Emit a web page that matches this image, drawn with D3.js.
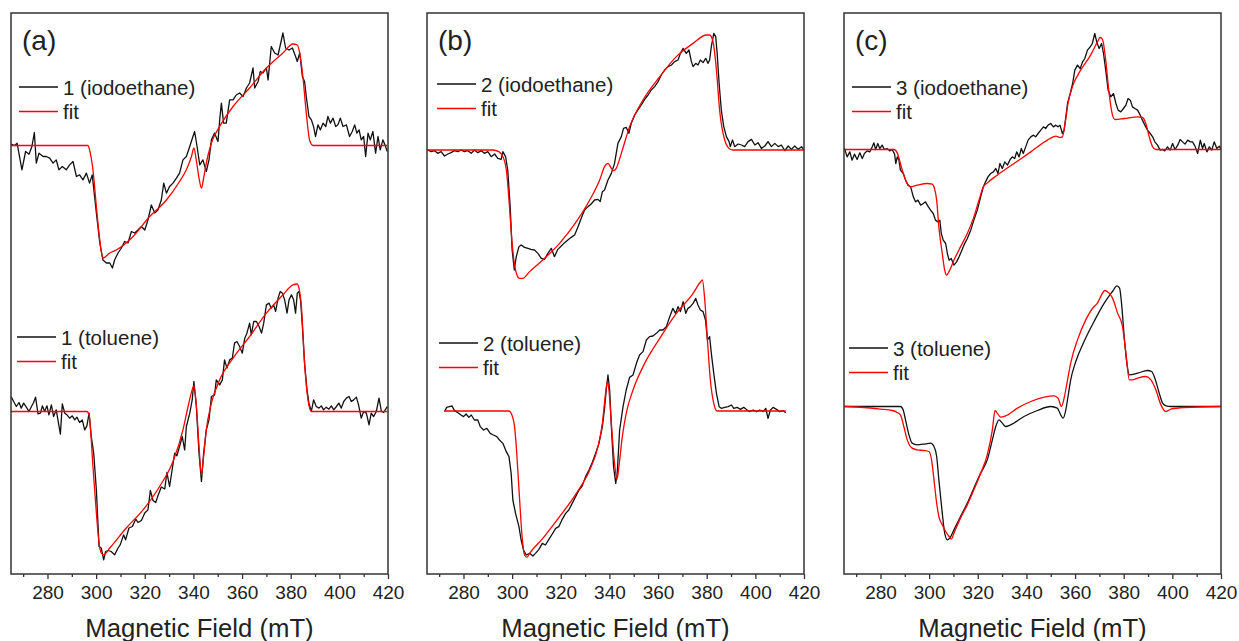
<!DOCTYPE html>
<html>
<head>
<meta charset="utf-8">
<script src="https://cdn.jsdelivr.net/npm/d3@7"></script>
<style>
  body { margin: 0; background: #fff; }
  svg { display: block; font-family: "Liberation Sans", Arial, sans-serif; }
</style>
</head>
<body>
<div id="chart"></div>
<script>
// ---- data (field in mT, intensity in a.u. relative to each trace's baseline) ----
var panelLabels = ["(a)", "(b)", "(c)"];
var legendNames = [
  ["1 (iodoethane)", "1 (toluene)"],
  ["2 (iodoethane)", "2 (toluene)"],
  ["3 (iodoethane)", "3 (toluene)"]
];
var xTicks = [280, 300, 320, 340, 360, 380, 400, 420];
var xMinorTicks = [270, 290, 310, 330, 350, 370, 390, 410];
var xTitle = "Magnetic Field (mT)";
// vertical offsets of the two traces in every panel (upper, lower)
var offsets = [[85.7, 32.5], [84.8, 32.6], [84.9, 33.5]];

var a1Exp = [[265,0.27],[266.5,0],[267.5,0.47],[269.5,-4.87],[271,-1.2],[272.4,-1.73],[273.6,-0.2],[274.6,2.6],[275.4,-3.53],[276.5,-1.53],[278.2,-2.2],[279.5,-2.2],[280.9,-2.53],[282.3,-3.53],[283.6,-2.87],[284.7,-4.87],[286.1,-4.2],[287.7,-4.87],[289.1,-3.87],[290.5,-3.2],[291.9,-6.2],[293.2,-5.87],[294.6,-6.87],[296,-5.53],[297.3,-7.53],[298.4,-5.87],[300.1,-13.5],[301.5,-19.5],[302.8,-22.9],[304.2,-23.5],[305.6,-23.5],[306.7,-24.5],[307.6,-22.9],[309,-21.5],[310.4,-20.5],[311.7,-19.2],[313.1,-19.5],[314.5,-17.2],[315.8,-17.5],[317.2,-16.9],[318.6,-16.2],[320,-16.9],[321.3,-14.9],[322.7,-11.9],[324.1,-13.5],[325.4,-12.9],[326.8,-10.9],[327.8,-7.53],[328.9,-9.53],[330.2,-8.2],[331.6,-7.53],[333,-6.53],[334.3,-5.53],[335.7,-2.87],[337.1,-2.2],[338.5,-0.2],[339.8,1.8],[340.5,2.8],[341.5,-0.2],[342.6,-3.87],[343.9,-2.87],[345.3,-5.2],[346.4,-2.87],[347.4,1.13],[348.7,2.47],[350.1,0.8],[350.8,5.13],[351.5,8.47],[352.4,4.47],[353.5,4.47],[354.9,9.13],[356.3,9.13],[357.6,10.1],[359,10.5],[360.4,9.8],[361.8,11.5],[363.1,12.5],[364.5,15.5],[365.2,11.5],[366.6,12.8],[367.5,14.8],[368.6,14.5],[370,15.5],[370.7,13.1],[372,19.8],[373.4,18.5],[374.8,18.1],[375.9,20.5],[376.8,22.5],[377.9,19.5],[379.3,19.1],[380.7,19.5],[382,17.8],[382.7,16.8],[383.7,18.5],[384.8,13.8],[385.7,12.8],[386.4,9.8],[387.5,5.8],[388.5,5.13],[389.4,3.8],[390.2,1.8],[391.2,4.13],[392.2,3.13],[393.3,4.47],[394.4,3.8],[395.3,5.8],[396.3,4.47],[397.4,5.47],[398.5,3.8],[399.4,4.13],[400.4,5.47],[401.5,3.8],[402.9,4.13],[404.2,1.8],[405.3,2.8],[406.3,4.13],[407.2,2.47],[408.1,3.13],[409,1.13],[410,1.8],[410.8,-2.2],[411.8,2.47],[412.7,1.13],[413.8,2.8],[414.9,-1.53],[415.9,1.8],[416.8,-0.87],[417.9,1.13],[419,-0.2],[419.7,-1.2]];
var a1Fit = [[265,0],[296.7,0],[297.3,-0.87],[298.7,-4.87],[300.1,-12.2],[301.5,-18.9],[302.8,-22.5],[305.6,-21.5],[308.3,-20.9],[315.2,-18.2],[322,-14.2],[328.9,-10.9],[334.3,-7.2],[337.1,-4.87],[339.2,-2.2],[340.2,-0.5],[341.2,-3],[342.3,-6.5],[343.3,-8.53],[344.2,-6.5],[345.3,-3.5],[347.4,0.5],[350.8,3.8],[356.3,7.8],[363.1,11.5],[370,15.5],[376.8,18.5],[380.9,20.3],[382.7,20.1],[383.7,18.5],[385,13.8],[386.4,6.5],[387.8,1],[389.2,0],[419.7,0]];
var a2Exp = [[265,3],[266.1,2],[267.2,1],[268.3,1.8],[269.2,0.67],[270.2,1.67],[271.3,0.87],[272.4,0],[273.4,1],[274.3,1.8],[275.1,2.87],[276.1,-0.47],[277.1,-0.33],[277.9,1.13],[278.8,0],[279.8,1.13],[280.6,-0.67],[281.6,1.33],[282.5,-1],[283.6,0.33],[284.3,-1.67],[285.3,-4.53],[286.1,1.53],[287.1,-0.33],[288,-0.67],[289.1,-1.33],[290.2,-0.87],[291.2,-1.67],[292.1,-1.13],[293.2,-2.2],[294.3,-1.67],[295.3,-3.67],[296.2,-2.87],[297.1,-0.33],[298,-5],[299,-8.33],[300.1,-15.7],[301.2,-27],[302.1,-27.3],[303.1,-29.67],[303.9,-28],[304.9,-27.8],[306.2,-28],[307.6,-28.67],[309,-27.3],[309.9,-26.67],[311.3,-24.67],[312.1,-25.67],[313.5,-23.3],[314.9,-23],[316.3,-21.5],[317.2,-22.2],[318.6,-21.8],[320,-20.3],[321.3,-19.67],[322.3,-15.8],[323.4,-17.8],[324.5,-18.2],[325.4,-16.87],[326.8,-15.1],[328.2,-15.5],[329.1,-12.2],[330.2,-15],[331.3,-11.5],[332.3,-8.33],[333.2,-8.87],[334.3,-7],[335.4,-5],[336.4,-7.67],[337.1,-3],[338.5,-0.33],[339.5,2.33],[340.2,6],[341.2,1],[342.3,-8.33],[343.3,-14],[344.2,-8.33],[345.3,-3.67],[346.4,-1.67],[347.4,3],[348.7,3.33],[349.4,6.33],[350.8,5.33],[351.9,6.33],[352.8,10.33],[353.8,8.67],[354.9,10.33],[356,10.67],[356.9,13.67],[357.9,14],[359,13],[360.1,11.67],[361.1,14.67],[362,15.67],[363.1,17.67],[363.8,15.33],[364.8,18],[365.9,18],[367,17],[368,15.67],[368.9,17.67],[370,21.33],[371.1,21.67],[372,20.67],[373,21.33],[373.8,20],[374.8,22.67],[375.7,24],[376.6,23.67],[377.5,22.33],[378.5,19.67],[379.3,22.33],[380.3,23.33],[381.2,22.33],[382,19.67],[382.7,23.67],[383.4,24],[384.1,22],[384.8,17],[385.7,9.67],[386.7,4.33],[387.5,1.67],[388.5,0],[389.4,2.33],[390.5,1],[391.6,0.67],[392.6,1.13],[393.5,0.33],[394.6,0.87],[395.7,0.47],[396.7,1.13],[397.7,0.33],[398.8,1],[399.8,1.67],[400.8,0.67],[401.8,2],[402.9,2.67],[404,3],[404.9,2],[405.9,2.33],[407,2.87],[407.9,1.33],[409,-1.33],[410,0],[411.1,-0.33],[412.2,-2.67],[413.1,-0.33],[414.1,-1],[415.2,0],[416.3,2.67],[417.3,0],[418.2,-0.2],[419.3,0.67],[419.7,1]];
var a2Fit = [[265,0],[296.2,0],[297.1,-0.67],[298.7,-11],[300.1,-20.3],[301.2,-26.3],[302.1,-28.3],[303.1,-28.67],[305.6,-27.3],[312.4,-23.3],[319.3,-19.67],[326.1,-15],[331.6,-10],[335.7,-3.67],[337.8,1],[339.5,4.33],[340.2,5.13],[341.2,1.33],[342.3,-7],[343.3,-12.67],[344.2,-9],[345.3,-3.67],[347.4,1.67],[350.8,6.33],[356.3,10.67],[363.1,15],[370,19.67],[376.8,23.33],[380.9,25.33],[382.6,25.5],[383.4,24.67],[384.4,21],[385.7,9.67],[387.1,2.33],[388.5,0],[419.7,0]];

var b1Exp = [[265.3,0],[266.7,-0.33],[268.1,-0.13],[269.4,-0.67],[270.8,-0.33],[272.2,-1.2],[273.6,-0.8],[274.9,-0.53],[276.3,-0.13],[277.7,-0.33],[279,0],[280.4,-0.33],[281.8,-0.13],[283.2,-0.67],[284.5,0],[285.9,-0.53],[287.3,-0.13],[288.6,-0.67],[290,-0.33],[291.4,-1.33],[292.8,-0.8],[294.1,-1.67],[295.5,-1.87],[296.2,-0.33],[297.3,-1.33],[298.2,-4],[299.2,-11.33],[300,-20],[300.9,-24],[301.7,-21.33],[302.8,-19.33],[303.7,-19],[305.1,-19.47],[306.5,-19.67],[307.8,-19.87],[309.2,-20],[310.6,-20.67],[312,-21.67],[313.3,-21.87],[314.7,-20.67],[316.1,-19.67],[317.4,-21.33],[318.8,-19.87],[320.2,-19.2],[321.6,-18.53],[322.9,-18],[324.3,-17.47],[325.7,-17],[327.1,-15.33],[328.4,-13.67],[329.8,-12],[331.2,-11.33],[332.5,-10.8],[333.9,-10],[335.3,-9.87],[336.2,-10.33],[337.1,-8.33],[338,-8],[339.4,-6],[340.8,-4.67],[342.1,-2.67],[343.5,1.33],[344.9,2.67],[345.8,4.33],[346.9,4.53],[348,3.33],[349,5.33],[350.4,7],[351.7,8],[353.1,9],[354.5,10.13],[355.9,11],[357.2,12],[358.6,12.67],[360,13.67],[361.3,15],[362.7,16],[364.1,16.67],[365.5,17],[366.8,17.67],[368.2,18],[369.2,19.33],[370.3,20.33],[371.6,19.33],[372.7,20],[373.7,17.67],[374.4,16.67],[375.5,17.33],[376.4,17],[377.4,18],[378.5,17.47],[379.6,18.33],[380.5,17.33],[381.2,18],[381.9,20.67],[382.9,23.33],[383.7,22.67],[384.3,19.33],[385.1,13.33],[386,8],[387,4.67],[388.1,2.67],[389.2,1.67],[389.7,0.67],[390.6,2],[391.5,0.67],[392.9,1.2],[394.3,1],[395.6,0.67],[397,1.67],[398.4,2.13],[399.8,1],[401.1,1.47],[402.5,0.33],[403.9,0.8],[405.2,1.67],[406.6,0.67],[408,1.33],[409.4,0.67],[410.7,1],[412.1,-0.13],[413.5,0.8],[414.8,0.13],[416.2,0.8],[417.6,0.13],[419,0.67],[420,0]];
var b1Fit = [[264.9,0],[292.1,0],[294.5,-0.33],[296.5,-1.67],[297.8,-4.67],[298.9,-11.33],[300,-18.67],[301.4,-24],[303,-25.67],[304.4,-25.67],[307.2,-24.33],[312.6,-22],[319.5,-18.67],[326.4,-14.33],[331.9,-10],[336,-6],[338,-3.33],[339.4,-2.67],[340.8,-3.67],[341.7,-4.13],[342.8,-3.67],[344.9,-0.67],[348.3,4.67],[353.8,10],[360.7,14.67],[367.5,18.67],[374.4,21.33],[379.9,23],[381.2,23],[382.6,21.67],[384,16],[385.3,8],[387.4,2],[389.5,0.2],[390.8,0],[420,0]];
var b2Exp = [[272.2,-0.13],[273.1,0.73],[274.2,0.87],[275.3,1],[276.3,0.07],[277.7,-0.33],[279,-0.8],[280,-1.13],[281.1,-0.6],[282.2,-1.27],[283.2,-0.8],[284.5,-1.8],[285.9,-1.8],[286.9,-3.13],[288.2,-3.8],[289.6,-3.47],[291,-4.47],[292.3,-4.8],[293.7,-5.13],[294.8,-5.8],[296.2,-6.47],[297.6,-8.13],[298.7,-9.13],[299.6,-12.47],[300.3,-17.8],[301.4,-20.47],[302.8,-23.13],[303.7,-25.8],[304.7,-27.8],[305.8,-28.8],[307.2,-28.47],[308.5,-29],[309.6,-28.47],[311,-27.67],[312.4,-26.47],[313.7,-26.8],[315.1,-25.67],[316.5,-24.6],[317.9,-23.47],[319.2,-23.13],[320.6,-21.67],[322,-20.47],[323.3,-19.8],[324.7,-18.47],[326.1,-17.13],[327.5,-15.8],[328.8,-15],[330.2,-13.13],[331.6,-11.8],[332.9,-10.33],[334.3,-8.47],[335.7,-6.47],[337.1,-3.13],[338,0.53],[338.7,4.2],[339.4,7.2],[340.1,4.2],[340.8,-3.13],[341.7,-11.13],[342.6,-14.47],[343.2,-12.47],[344.2,-3.8],[345.6,0.87],[346.9,4.2],[348.3,6.73],[349.7,7.2],[351.1,9.53],[352.4,11.2],[353.8,11.87],[355.2,14.2],[356.5,14.87],[357.9,15],[359.3,15.53],[360.7,16.2],[362,16.2],[363.4,16.87],[364.8,18.87],[366.1,20.53],[367.2,19.53],[368.2,20.87],[369.2,19.87],[370.3,21.87],[371.4,19.53],[372.3,20.53],[373.3,20.87],[374.4,21.53],[375.5,22.53],[376.4,21.2],[377.4,20.2],[378.5,19.87],[379.5,18.2],[380.3,14.2],[381.2,14.87],[381.9,11.53],[382.9,7.53],[384,3.53],[385.1,0.87],[386,0.53],[387.4,0.73],[388.8,0.87],[390.2,1.2],[391.1,0.53],[392.5,0.73],[393.9,0.33],[395.2,0.73],[396.6,0.2],[397.7,-0.13],[399.1,0.2],[400.4,-0.13],[401.8,0.2],[403.2,-0.13],[404.3,0.53],[405.2,-1.47],[406.2,0.2],[407.3,0.73],[408.7,0.33],[410,-0.13],[411.4,0.07],[412.5,-0.33]];
var b2Fit = [[272.2,0],[298.7,0],[299.6,-0.47],[301,-3.13],[301.9,-8.47],[303,-17.13],[304.1,-25.13],[305.1,-28.8],[306.1,-29.27],[307.2,-28.47],[312.6,-25.47],[319.5,-21.13],[326.4,-16.47],[331.9,-11.8],[335.3,-7.13],[337.1,-2.47],[338.4,3.53],[339.1,5.87],[339.8,4.2],[340.8,-2.47],[342.1,-10.47],[343.1,-13.67],[343.9,-11.13],[345.3,-5.13],[346.9,-0.47],[349.7,4.2],[353.8,8.87],[360.7,14.53],[367.5,19.53],[374.4,23.53],[377.4,25.8],[378.2,26.2],[379.2,22.2],[380.3,14.2],[381.5,6.2],[382.9,1.53],[384.3,0],[412.5,0]];

var c1Exp = [[265.2,0.2],[266.3,-1.47],[267.4,-0.47],[268.3,-2.13],[269.3,-0.93],[270.4,-2],[271.5,-0.67],[272.5,-1.8],[273.4,-0.8],[274.5,-0.27],[275.6,-0.47],[276.6,0.53],[277.3,1.33],[278,0],[278.9,1.2],[279.7,0.2],[280.7,0.87],[281.6,0],[282.7,0.2],[283.8,-0.27],[284.8,0],[285.8,-0.93],[286.3,-2.8],[286.9,-1.47],[287.6,-2.13],[288.2,-4.13],[289.4,-4.8],[290.3,-6.13],[291.3,-7.13],[292.4,-7.47],[293.5,-9.47],[294.4,-10.47],[295.4,-10.13],[296.5,-11.13],[297.6,-10.8],[298.5,-10.47],[299.5,-11.33],[300.6,-12.13],[301.7,-12.8],[302.6,-14.13],[303.6,-14.47],[304.4,-14.13],[305,-16.8],[305.8,-18.13],[306.8,-18.8],[307.5,-20.8],[308.2,-22.13],[309.1,-21.8],[310.2,-23.13],[311.3,-22.47],[312.3,-21.47],[313.2,-20.47],[314.3,-19.13],[315.7,-17.8],[317.1,-16.13],[318.4,-14.13],[319.8,-12.13],[321.2,-9.47],[322.3,-7.47],[323.2,-6.47],[324.2,-5.47],[325.3,-4.8],[326.4,-4.47],[327.4,-3.8],[328.3,-4.8],[329.1,-2.8],[330.1,-3.8],[331.1,-2.47],[332.2,-3.13],[333.3,-2],[334.2,-1.47],[335.2,-1.8],[336,-0.47],[337,-1.47],[337.9,0.2],[338.7,-0.8],[339.7,0.53],[340.7,1.87],[341.8,2.53],[342.9,2.87],[343.8,2.53],[344.8,3.2],[345.9,3.87],[347,4.53],[347.9,4.2],[348.9,4.87],[350,5.2],[351.1,4.53],[352.1,4.87],[353,4.53],[353.8,4.87],[354.8,3.2],[355.5,3.87],[356.2,6.53],[356.9,9.2],[358,11.2],[359,13.2],[359.9,15.87],[361,16.87],[362.1,16.2],[363.1,17.53],[364,18.2],[365.1,19.87],[366.2,20.53],[367.1,21.2],[368.1,23.2],[368.9,21.53],[369.9,20.2],[370.9,21.2],[371.7,19.2],[372.6,15.87],[373.6,11.87],[374.7,10.53],[375.8,11.2],[376.8,9.2],[377.7,7.87],[378.8,7.53],[379.9,8.2],[380.9,8.87],[381.8,10.2],[382.7,9.87],[383.6,8.53],[384.6,8.2],[385.7,7.87],[386.8,6.87],[387.7,5.87],[388.7,4.87],[389.8,3.87],[390.9,3.2],[391.9,2.53],[392.8,1.53],[393.9,0.87],[395,-0.13],[396,0],[396.9,-0.27],[398,0.53],[399.1,-0.13],[400.1,1.2],[401.1,0],[402.2,0.87],[403.2,2],[404.2,1.53],[405.2,1.07],[406.3,1.87],[407.4,1.53],[408.3,1.53],[409.3,0.67],[410.4,-0.8],[411.5,1.87],[412.4,0.2],[413.1,1.2],[414.2,-0.47],[415.2,0.53],[416.2,-0.13],[417.2,1.53],[418.3,0.2],[419.3,0.67],[420,0]];
var c1Fit = [[265.2,0],[285.5,0],[286.9,-0.67],[288.2,-2.8],[289.6,-5.13],[291,-6.8],[292.4,-7.47],[295.1,-7.13],[299.2,-6.8],[301.3,-6.93],[302.2,-7.8],[303.1,-10.13],[304,-15.47],[305.4,-20.8],[306.4,-24.13],[307.2,-25.13],[308.1,-24.47],[310.2,-22.13],[312.9,-19.47],[315.7,-16.8],[318.4,-13.47],[320.5,-10.13],[322.3,-7.47],[323.9,-6.67],[328,-5.13],[334.9,-2.8],[341.8,-0.47],[348.6,1.87],[352.1,2.67],[353.8,2.4],[354.8,2.53],[355.9,5.2],[357.1,9.2],[358.9,12.53],[362.3,15.87],[366.4,18.87],[369.2,21.53],[370.3,22.4],[371.3,22],[372.6,17.87],[374,11.2],[375.4,6.87],[376.4,6],[380.2,6.2],[385.7,6.53],[387.7,6.4],[389.1,5.2],[390.5,2.53],[391.9,0.53],[393.2,0],[420,0]];
var c2Exp = [[265.2,0],[288.2,0],[289.3,-0.67],[290.3,-2.67],[291.7,-5.67],[293,-7.33],[295.1,-7.67],[298.5,-7.47],[300.6,-7.33],[302,-8],[303.1,-10],[304,-14.67],[305.4,-21.33],[306.4,-25.33],[307.5,-26.67],[308.5,-26.33],[310.2,-24.67],[312.9,-22],[315.7,-19.33],[318.4,-16.33],[321.2,-13.33],[323.9,-10.67],[326,-6.67],[327.4,-4],[328.7,-2.67],[330.1,-3.33],[331.5,-4],[333.5,-3.67],[339,-2],[344.5,-0.8],[350,0],[352.7,-0.33],[354.1,-1.67],[355.1,-2.33],[356.2,-0.67],[357.1,2],[358.2,5.33],[360.3,9],[363.7,13],[367.8,17],[372,20.67],[375.4,23],[377.2,24.13],[378.3,23.67],[379.1,20.67],[380.2,14],[381.3,8.67],[382.3,6.33],[385.7,6.67],[389.8,7.2],[391.5,7],[392.8,5.67],[394.6,2.67],[396,0.67],[397.4,0.13],[399.4,0],[420,0]];
var c2Fit = [[265.2,0],[273.1,-0.2],[280,-0.53],[284.8,-0.8],[286.9,-1.2],[288.2,-1.67],[289.6,-4],[291,-6.67],[293,-8.33],[295.1,-8.67],[297.8,-8.8],[299.9,-9],[301,-10.67],[302,-14.67],[303.1,-19.33],[304,-22],[305.4,-23.67],[306.8,-25],[308.2,-26],[309.1,-26.53],[310.2,-25.33],[312.9,-22.33],[315.7,-19.67],[318.4,-16.67],[321.2,-13.33],[323.9,-9.67],[326,-4.67],[327.1,-0.8],[328,-1.33],[329.4,-2.13],[331.5,-1.87],[336.3,-0.33],[341.8,1],[347.3,1.87],[351.4,2.13],[353,1.67],[354.4,0],[355.5,1.67],[356.9,5.33],[358.2,8.67],[361,13.33],[364.4,17.33],[367.8,20],[369.2,20.67],[370.9,22.33],[372.2,23.2],[374,22.67],[375.4,21.67],[377.5,18.67],[379.5,16],[380.9,10.67],[382.3,5.33],[383.6,5.33],[385.7,5.67],[389.1,6],[391.2,5.33],[393.2,3.33],[395.3,0.33],[397.4,-1],[399.4,-0.53],[404.9,-0.2],[420,0]];

// traces per panel: [experiment, fit] for the upper and lower spectra
var panels = [
  [[a1Exp, a1Fit], [a2Exp, a2Fit]],
  [[b1Exp, b1Fit], [b2Exp, b2Fit]],
  [[c1Exp, c1Fit], [c2Exp, c2Fit]]
];

// ---- layout ----
var W = 1239, H = 641;
var panelLeft = [11, 427, 844], panelWidth = 377;
var plotTop = 13, plotBottom = 574;
// legend anchor (line start x, upper row y) for upper and lower legends, relative to the panel
var legendPos = [
  [[8, 87], [6, 337]],
  [[10, 84], [12, 343]],
  [[8, 87], [5, 348]]
];

var svg = d3.select("#chart").append("svg")
  .attr("width", W)
  .attr("height", H);

var y = d3.scaleLinear().domain([0, 112.2]).range([plotBottom, plotTop]);

panels.forEach(function(traces, p) {
  var left = panelLeft[p];
  var x = d3.scaleLinear().domain([265, 420]).range([0, panelWidth]);
  var g = svg.append("g").attr("transform", "translate(" + left + ",0)");

  g.append("clipPath").attr("id", "clip" + p)
    .append("rect")
    .attr("x", 0).attr("y", plotTop)
    .attr("width", panelWidth).attr("height", plotBottom - plotTop);

  var plot = g.append("g").attr("clip-path", "url(#clip" + p + ")");

  traces.forEach(function(pair, t) {
    var off = offsets[p][t];
    var smoothExp = (p == 2 && t == 1);
    var expLine = d3.line()
      .x(function(d) { return x(d[0]); })
      .y(function(d) { return y(d[1] + off); })
      .curve(smoothExp ? d3.curveMonotoneX : d3.curveLinear);
    var fitLine = d3.line()
      .x(function(d) { return x(d[0]); })
      .y(function(d) { return y(d[1] + off); })
      .curve(d3.curveMonotoneX);

    plot.append("path").datum(pair[0])
      .attr("d", expLine)
      .attr("fill", "none")
      .attr("stroke", "#111")
      .attr("stroke-width", 1.3)
      .attr("stroke-linejoin", "round");
    plot.append("path").datum(pair[1])
      .attr("d", fitLine)
      .attr("fill", "none")
      .attr("stroke", "#ff0000")
      .attr("stroke-width", 1.3)
      .attr("stroke-linejoin", "round");

    // legend
    var lp = legendPos[p][t];
    var leg = g.append("g").attr("transform", "translate(" + lp[0] + "," + lp[1] + ")");
    [[legendNames[p][t], "#111"], ["fit", "#ff0000"]].forEach(function(item, i) {
      leg.append("line")
        .attr("x1", 0).attr("x2", 39)
        .attr("y1", i * 24.5).attr("y2", i * 24.5)
        .attr("stroke", item[1]).attr("stroke-width", 1.3);
      leg.append("text")
        .attr("x", 44).attr("y", i * 24.5 + 7.5)
        .attr("font-size", "20.5px")
        .attr("fill", "#222")
        .text(item[0]);
    });
  });

  // frame
  g.append("rect")
    .attr("x", 0).attr("y", plotTop)
    .attr("width", panelWidth).attr("height", plotBottom - plotTop)
    .attr("fill", "none")
    .attr("stroke", "#333")
    .attr("stroke-width", 1.5);

  // x axis, major and minor ticks
  var xAxis = d3.axisBottom(x).tickValues(xTicks).tickSize(5).tickSizeOuter(0).tickPadding(7);
  var ax = g.append("g").attr("transform", "translate(0," + plotBottom + ")").call(xAxis);
  ax.select(".domain").remove();
  ax.selectAll(".tick line").attr("stroke", "#333").attr("stroke-width", 1.3);
  ax.selectAll(".tick text")
    .attr("font-size", "19px")
    .attr("font-family", "Liberation Sans, Arial, sans-serif")
    .attr("fill", "#222");

  var minor = g.append("g").attr("transform", "translate(0," + plotBottom + ")")
    .call(d3.axisBottom(x).tickValues(xMinorTicks).tickSize(3).tickFormat(""));
  minor.select(".domain").remove();
  minor.selectAll(".tick line").attr("stroke", "#333").attr("stroke-width", 1.3);

  g.append("text")
    .attr("x", panelWidth / 2).attr("y", 637)
    .attr("text-anchor", "middle")
    .attr("font-size", "25.7px")
    .attr("fill", "#222")
    .text(xTitle);

  g.append("text")
    .attr("x", 11).attr("y", 50)
    .attr("font-size", "28px")
    .attr("fill", "#222")
    .text(panelLabels[p]);
});
</script>
</body>
</html>
